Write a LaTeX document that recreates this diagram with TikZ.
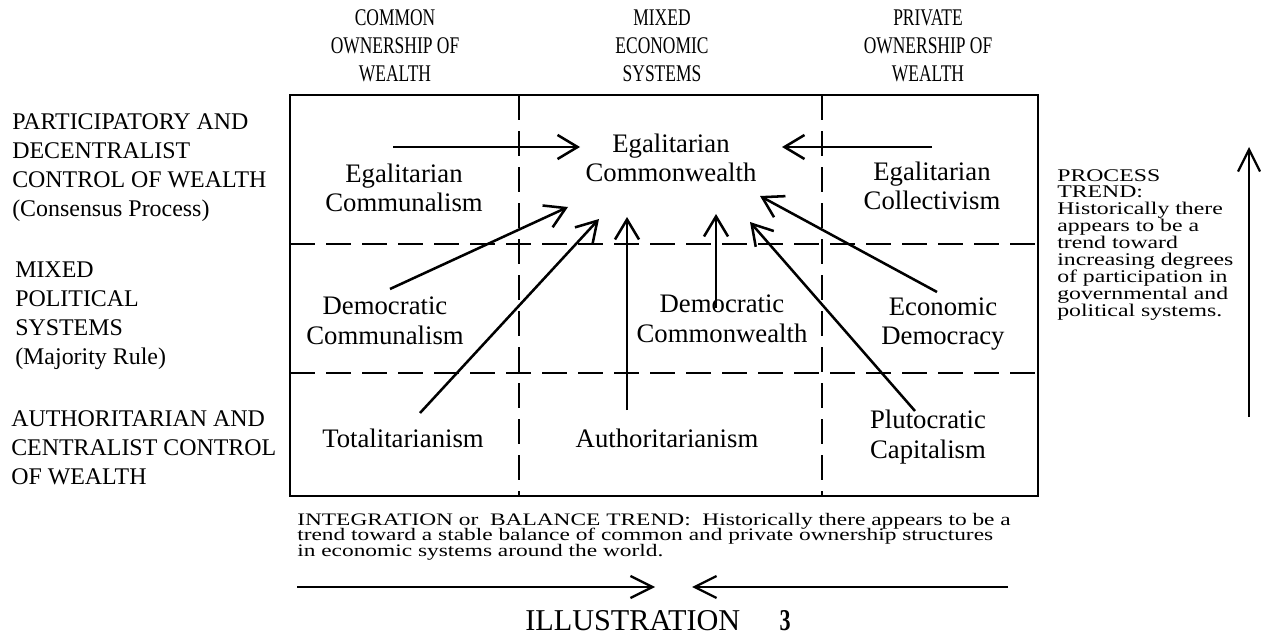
\documentclass[tikz,border=0pt]{standalone}
\usepackage{fontspec}
\setmainfont{Liberation Serif}
\newfontfamily\narrowfont[FakeStretch=0.73]{Liberation Serif}
\newfontfamily\widefont[FakeStretch=1.33]{Liberation Serif}
\newcommand\tightlines{\lineskiplimit=-5pt\relax}
\usetikzlibrary{arrows.meta}

\tikzset{
  colhead/.style={font=\narrowfont\fontsize{17}{20}\selectfont, align=center, inner sep=0pt},
  rowhead/.style={font=\fontsize{17}{20.6}\selectfont, align=left, anchor=north west, inner sep=0pt},
  cell/.style={font=\fontsize{19}{21}\selectfont, align=center, inner sep=0pt},
  note/.style={font=\widefont\fontsize{12.5}{11}\selectfont\tightlines, align=left, anchor=north west, inner sep=0pt},
  sidenote/.style={note, font=\widefont\fontsize{12.7}{12}\selectfont\tightlines},
  gridline/.style={line width=1.4pt, dash pattern=on 0.62cm off 0.28cm},
  trend/.style={line width=1.8pt, -{Straight Barb[length=5mm,width=6mm,line width=1.8pt]}},
  longtrend/.style={line width=1.4pt, -{Straight Barb[length=5.5mm,width=5.5mm,line width=1.6pt]}},
}

\begin{document}
\begin{tikzpicture}[x=0.025cm, y=-0.025cm]
  \useasboundingbox (0,0) rectangle (1261,636);

  % frame and grid
  \draw[line width=1.4pt] (290,95) rectangle (1038,496);
  \draw[gridline] (519,95) -- (519,496);
  \draw[gridline] (822,95) -- (822,496);
  \draw[gridline] (290,244) -- (1038,244);
  \draw[gridline] (290,373) -- (1038,373);

  % column headings
  \node[colhead] (common)  at (395,46) {COMMON\\OWNERSHIP OF\\WEALTH};
  \node[colhead] (mixed)   at (662,46) {MIXED\\ECONOMIC\\SYSTEMS};
  \node[colhead] (private) at (928,46) {PRIVATE\\OWNERSHIP OF\\WEALTH};

  % row headings
  \node[rowhead] (particip) at (12,113)
    {PARTICIPATORY AND\\DECENTRALIST\\CONTROL OF WEALTH\\(Consensus Process)};
  \node[rowhead] (mixpol) at (15,262)
    {MIXED\\POLITICAL\\SYSTEMS\\(Majority Rule)};
  \node[rowhead] (author) at (11,410)
    {AUTHORITARIAN AND\\CENTRALIST CONTROL\\OF WEALTH};

  % cells
  \node[cell] (egcomm) at (404,188) {Egalitarian\\Communalism};
  \node[cell] (egcw)   at (671,158) {Egalitarian\\Commonwealth};
  \node[cell] (egcoll) at (932,186) {Egalitarian\\Collectivism};
  \node[cell] (demcomm) at (385,321) {Democratic\\Communalism};
  \node[cell] (demcw)   at (722,319) {Democratic\\Commonwealth};
  \node[cell] (ecodem)  at (943,324) {Economic\\Democracy};
  \node[cell] (total) at (403,438) {Totalitarianism};
  \node[cell] (auth)  at (667,438) {Authoritarianism};
  \node[cell] (pluto) at (928,437) {Plutocratic\\Capitalism};

  % arrow ends
  \coordinate (t1) at (393,147);  \coordinate (h1) at (580,147);
  \coordinate (t2) at (932,147);  \coordinate (h2) at (782,147);
  \coordinate (t3) at (390,289);  \coordinate (h3) at (568,207);
  \coordinate (t4) at (420,413);  \coordinate (h4) at (599,219);
  \coordinate (t5) at (627,410);  \coordinate (h5) at (627,217);
  \coordinate (t6) at (716,308);  \coordinate (h6) at (716,214);
  \coordinate (t7) at (915,411);  \coordinate (h7) at (750,222);
  \coordinate (t8) at (937,292);  \coordinate (h8) at (760,196);
  \foreach \i in {1,...,8}
    \draw[trend] (t\i) -- (h\i);

  % process trend
  \node[sidenote] (process) at (1057,169)
    {PROCESS\\TREND:\\Historically there\\appears to be a\\trend toward\\increasing degrees\\of participation in\\governmental and\\political systems.};
  \coordinate (pbot) at (1249,417);
  \coordinate (ptop) at (1249,147);
  \draw[longtrend] (pbot) -- (ptop);

  % integration trend
  \node[note] (balance) at (297,513)
    {INTEGRATION or\ \ BALANCE TREND:\ \ Historically there appears to be a\\trend toward a stable balance of common and private ownership structures\\in economic systems around the world.};
  \coordinate (bleft) at (297,587);  \coordinate (bmid1) at (655,587);
  \coordinate (bright) at (1008,587); \coordinate (bmid2) at (692,587);
  \draw[longtrend] (bleft) -- (bmid1);
  \draw[longtrend] (bright) -- (bmid2);

  \node[anchor=base west, inner sep=0pt, font=\fontsize{21.5}{24}\selectfont] (title) at (525,630)
    {ILLUSTRATION\hspace{28pt}{\narrowfont\bfseries 3}};
\end{tikzpicture}
\end{document}
